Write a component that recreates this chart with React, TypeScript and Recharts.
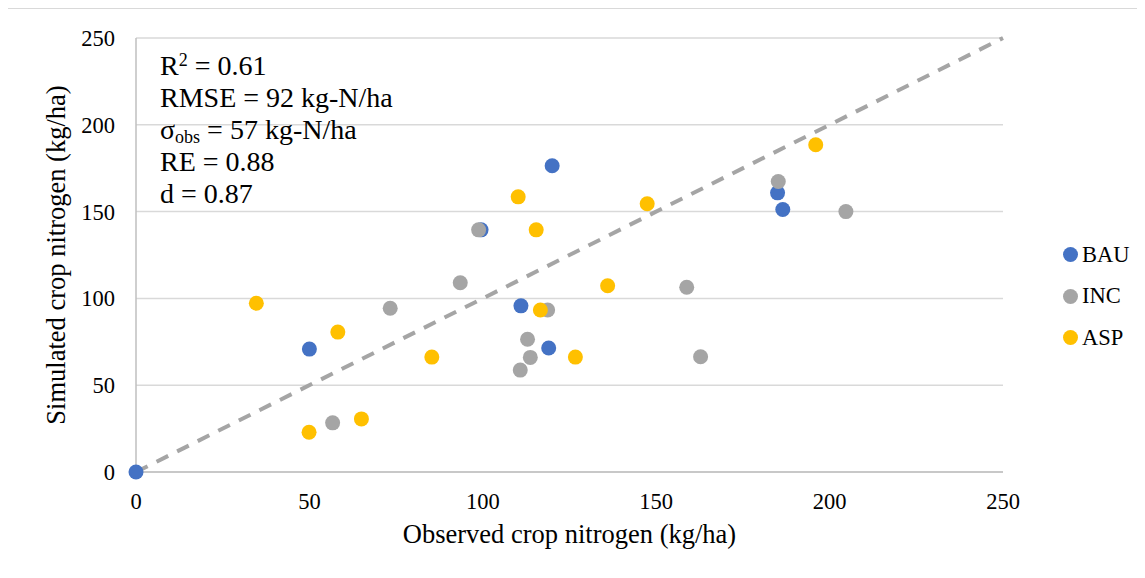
import { ScatterChart, Scatter, XAxis, YAxis, CartesianGrid, ReferenceLine, Legend } from "recharts";

const bauObs = [0, 50, 99.5, 120, 111, 119, 185, 186.5];
const bauSim = [0, 70.8, 139.5, 176.4, 95.7, 71.4, 160.8, 151.2];

const incObs = [56.7, 73.3, 93.5, 98.8, 118.7, 112.9, 113.7, 110.8, 158.8, 162.8, 185.2, 204.7];
const incSim = [28.3, 94.3, 109, 139.5, 93.3, 76.5, 66, 58.7, 106.4, 66.4, 167.3, 150];

const aspObs = [34.7, 58.2, 49.9, 65, 85.3, 110.2, 115.4, 116.6, 126.7, 136, 147.4, 196];
const aspSim = [97.2, 80.6, 22.9, 30.6, 66.2, 158.5, 139.5, 93.3, 66.2, 107.3, 154.5, 188.5];

const axisTicks = [0, 50, 100, 150, 200, 250];

const toPoints = (xs: number[], ys: number[]) => xs.map((x, i) => ({ x, y: ys[i] }));

const series = [
  { name: "BAU", color: "#4472C4", data: toPoints(bauObs, bauSim) },
  { name: "INC", color: "#A5A5A5", data: toPoints(incObs, incSim) },
  { name: "ASP", color: "#FFC000", data: toPoints(aspObs, aspSim) },
];

const FONT = "Liberation Serif, Times New Roman, serif";

const Dot = (props: any) => {
  const { cx, cy, fill } = props;
  return <circle cx={cx} cy={cy} r={7.5} fill={fill} />;
};

const renderLegend = () => (
  <div style={{ width: 130, paddingLeft: 60, boxSizing: "border-box", fontFamily: FONT }}>
    {series.map((s) => (
      <div key={s.name} style={{ height: 41.5, display: "flex", alignItems: "center" }}>
        <span
          style={{
            width: 15,
            height: 15,
            borderRadius: "50%",
            background: s.color,
            display: "inline-block",
            marginRight: 4,
          }}
        />
        <span style={{ fontSize: 22.5, color: "#000" }}>{s.name}</span>
      </div>
    ))}
  </div>
);

export default function App() {
  return (
    <div
      style={{
        position: "relative",
        width: 1137,
        height: 572,
        border: "1px solid #D9D9D9",
        marginLeft: -1,
        background: "#fff",
        fontFamily: FONT,
      }}
    >
      <ScatterChart
        width={1137}
        height={570}
        margin={{ top: 29, right: 12, left: 0, bottom: 27 }}
        style={{ fontFamily: FONT }}
      >
        <CartesianGrid vertical={false} stroke="#D9D9D9" strokeWidth={1.5} />
        <XAxis
          type="number"
          dataKey="x"
          domain={[0, 250]}
          ticks={axisTicks}
          height={80}
          tickLine={false}
          tickSize={0}
          tickMargin={21}
          axisLine={{ stroke: "#BFBFBF", strokeWidth: 1.5 }}
          tick={{ fill: "#000", fontSize: 22.5, fontFamily: FONT }}
          label={{
            value: "Observed crop nitrogen (kg/ha)",
            position: "insideBottom",
            offset: 9,
            style: { fill: "#000", fontSize: 26.5, fontFamily: FONT },
          }}
        />
        <YAxis
          type="number"
          dataKey="y"
          domain={[0, 250]}
          ticks={axisTicks}
          width={128}
          tickLine={false}
          tickSize={0}
          tickMargin={21}
          axisLine={{ stroke: "#BFBFBF", strokeWidth: 1.5 }}
          tick={{ fill: "#000", fontSize: 22.5, fontFamily: FONT }}
          label={{
            value: "Simulated crop nitrogen (kg/ha)",
            angle: -90,
            position: "insideLeft",
            offset: 48,
            style: { fill: "#000", fontSize: 26.5, fontFamily: FONT, textAnchor: "middle" },
          }}
        />
        <ReferenceLine
          segment={[
            { x: 0, y: 0 },
            { x: 250, y: 250 },
          ]}
          stroke="#A5A5A5"
          strokeWidth={4}
          strokeDasharray="13 10"
          ifOverflow="visible"
        />
        {series.map((s) => (
          <Scatter
            key={s.name}
            name={s.name}
            data={s.data}
            fill={s.color}
            shape={<Dot />}
            isAnimationActive={false}
          />
        ))}
        <Legend
          layout="vertical"
          align="right"
          verticalAlign="middle"
          content={renderLegend}
          wrapperStyle={{ width: 130, top: 225 }}
        />
      </ScatterChart>
      <div
        style={{
          position: "absolute",
          left: 152,
          top: 41,
          fontFamily: FONT,
          fontSize: 28,
          lineHeight: "32px",
          color: "#000",
          pointerEvents: "none",
        }}
      >
        <div style={{ height: 32 }}>
          R<sup style={{ fontSize: 18, verticalAlign: "9px", lineHeight: 0 }}>2</sup> = 0.61
        </div>
        <div style={{ height: 32 }}>RMSE = 92 kg-N/ha</div>
        <div style={{ height: 32 }}>
          σ<sub style={{ fontSize: 18, verticalAlign: "-4px", lineHeight: 0 }}>obs</sub> = 57 kg-N/ha
        </div>
        <div style={{ height: 32 }}>RE = 0.88</div>
        <div style={{ height: 32 }}>d = 0.87</div>
      </div>
    </div>
  );
}
